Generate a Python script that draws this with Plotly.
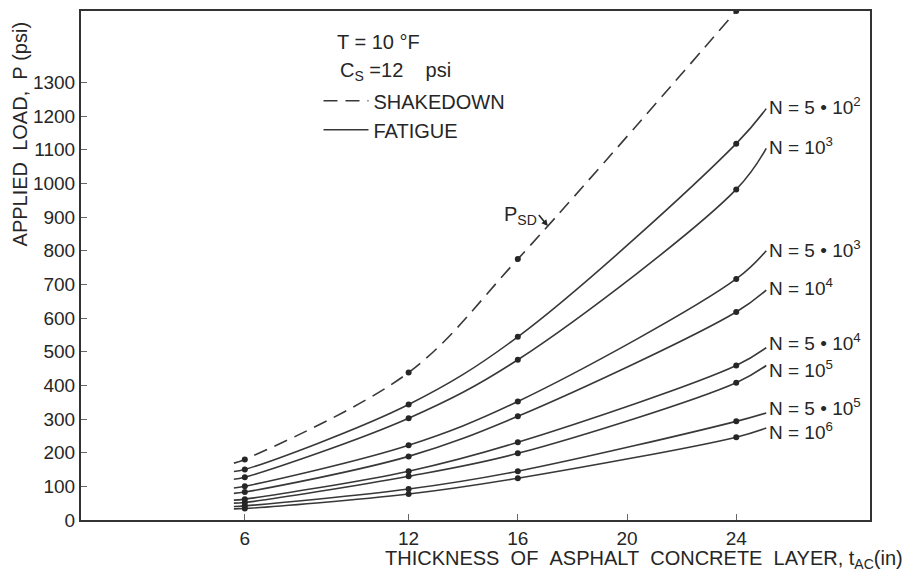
import plotly.graph_objects as go

# Pavement thickness (in) at which loads were computed
T_DATA = [6, 12, 16, 24]
# Where the drawn curves begin and end
T_START = 5.6
T_END = 25.1

# Shakedown load P_SD (psi)
SHAKEDOWN = [180, 438, 775, 1512]
SHAKEDOWN_START = 169

# Fatigue loads (psi) for each number of load repetitions N
N_LABELS = [
    "N = 5 \u2022 10<sup>2</sup>",
    "N = 10<sup>3</sup>",
    "N = 5 \u2022 10<sup>3</sup>",
    "N = 10<sup>4</sup>",
    "N = 5 \u2022 10<sup>4</sup>",
    "N = 10<sup>5</sup>",
    "N = 5 \u2022 10<sup>5</sup>",
    "N = 10<sup>6</sup>",
]
FATIGUE = [
    [150, 343, 544, 1118],
    [127, 302, 476, 982],
    [100, 222, 352, 716],
    [83, 189, 308, 618],
    [62, 145, 231, 459],
    [52, 130, 198, 408],
    [42, 92, 145, 293],
    [34, 77, 124, 246],
]
FATIGUE_START = [144, 121, 95, 79, 59, 50, 40, 33]
FATIGUE_END = [1222, 1104, 800, 683, 512, 459, 318, 273]
# Vertical nudge (px) of each N label relative to its curve end
LABEL_SHIFT = [3, 2, 2, 3, 6, -4, 6, -3]

# Axis ticks
X_TICKS = [6, 12, 16, 20, 24]
Y_TICKS = list(range(0, 1301, 100))

INK = "#262626"
LINE = "#383838"
FONT = "Liberation Sans"
NB = "\u00a0"

fig = go.Figure()

# Shakedown curve (dashed)
fig.add_trace(go.Scatter(
    x=[T_START] + T_DATA, y=[SHAKEDOWN_START] + SHAKEDOWN,
    mode="lines",
    line=dict(color=LINE, width=1.6, dash="14px,8px", shape="spline", smoothing=1.0),
    name="SHAKEDOWN", showlegend=True, hoverinfo="skip",
))
fig.add_trace(go.Scatter(
    x=T_DATA, y=SHAKEDOWN, mode="markers",
    marker=dict(color=INK, size=6), showlegend=False,
))

# Fatigue curves (solid)
for i, (vals, y0, y1) in enumerate(zip(FATIGUE, FATIGUE_START, FATIGUE_END)):
    fig.add_trace(go.Scatter(
        x=[T_START] + T_DATA + [T_END], y=[y0] + vals + [y1],
        mode="lines",
        line=dict(color=LINE, width=1.6, shape="spline", smoothing=1.0),
        name="FATIGUE", showlegend=(i == 0), hoverinfo="skip",
    ))
    fig.add_trace(go.Scatter(
        x=T_DATA, y=vals, mode="markers",
        marker=dict(color=INK, size=6), showlegend=False,
    ))
    fig.add_annotation(
        x=T_END, y=y1, text=N_LABELS[i], showarrow=False,
        xanchor="left", yanchor="middle", xshift=1, yshift=LABEL_SHIFT[i],
        font=dict(family=FONT, size=19, color=INK),
    )

# P_SD pointer on the shakedown curve
fig.add_annotation(
    x=17.1, y=873, text="P<sub>SD</sub>", showarrow=True,
    arrowhead=2, arrowsize=0.8, arrowwidth=1.6, arrowcolor=INK,
    ax=-9, ay=-11, xanchor="right", yanchor="middle",
    font=dict(family=FONT, size=20, color=INK),
)

# Test conditions
fig.add_annotation(
    xref="paper", yref="paper", x=0.322, y=0.939,
    text="T = 10 \u00b0F", showarrow=False, xanchor="left", yanchor="middle",
    font=dict(family=FONT, size=20, color=INK),
)
fig.add_annotation(
    xref="paper", yref="paper", x=0.326, y=0.881,
    text=f"C<sub>S</sub> =12{NB}{NB}{NB}{NB}psi", showarrow=False, xanchor="left", yanchor="middle",
    font=dict(family=FONT, size=20, color=INK),
)

# Axis titles
xtitle = f"THICKNESS{NB}{NB}OF{NB}{NB}ASPHALT{NB}{NB}CONCRETE{NB}{NB}LAYER,{NB}t<sub>AC</sub>(in)"
fig.add_annotation(
    xref="paper", yref="paper", x=1.044, y=-0.05,
    text=xtitle, showarrow=False, xanchor="right", yanchor="top",
    font=dict(family=FONT, size=20, color=INK),
)
fig.add_annotation(
    xref="paper", yref="paper", x=-0.077, y=0.758,
    text=f"APPLIED{NB}{NB}LOAD,{NB}{NB}P{NB}(psi)", textangle=-90,
    showarrow=False, xanchor="center", yanchor="middle",
    font=dict(family=FONT, size=20, color=INK),
)

axis_common = dict(
    showline=True, linecolor="#333", linewidth=2, mirror=True,
    showgrid=False, zeroline=False,
    ticks="inside", ticklen=6, tickcolor="#666", tickwidth=1,
    tickfont=dict(family=FONT, size=19, color=INK),
)

fig.update_xaxes(range=[0, 28.9], tickvals=X_TICKS, **axis_common)
fig.update_yaxes(range=[0, 1512], tickvals=Y_TICKS, **axis_common)

fig.update_layout(
    width=907, height=578,
    margin=dict(l=81, r=37, t=9, b=58),
    paper_bgcolor="white", plot_bgcolor="white",
    showlegend=True,
    legend=dict(
        x=0.301, y=0.862, xanchor="left", yanchor="top",
        bgcolor="rgba(0,0,0,0)", itemwidth=45, tracegroupgap=0,
        font=dict(family=FONT, size=20, color=INK),
    ),
)

fig.write_html("out.html")
